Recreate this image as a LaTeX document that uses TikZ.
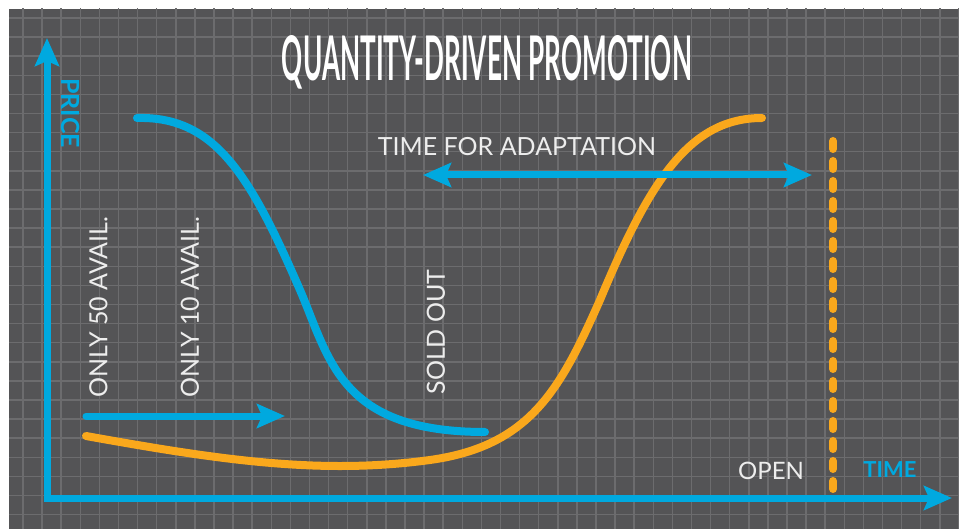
\documentclass[tikz,border=0pt]{standalone}
\usepackage{fontspec}
\setmainfont{Lato}
\usetikzlibrary{arrows.meta}
\definecolor{board}{HTML}{545456}
\definecolor{gridline}{HTML}{6C6C6E}
\definecolor{promoblue}{HTML}{00A9DF}
\definecolor{promoorange}{HTML}{FAA81C}
\definecolor{chalk}{HTML}{EDEDED}
\tikzset{
  bluearrow/.style={promoblue, line width=7pt, line join=miter},
  curve/.style={line width=8pt, line cap=round},
  note/.style={text=chalk, inner sep=0pt, font=\fontsize{25}{25}\selectfont},
  axisname/.style={text=promoblue, inner sep=0pt, font=\bfseries\fontsize{24}{24}\selectfont}
}
\begin{document}
\begin{tikzpicture}[x=1pt, y=-1pt, >={Stealth[length=28pt, width=24pt, inset=5pt]}]
\useasboundingbox (0,0) rectangle (959,529);
\fill[white] (0,0) rectangle (959,529);
\fill[board] (9,9) rectangle (959,529);
\begin{scope}
\clip (9,9) rectangle (959,529);
\foreach \k in {0,...,49} \draw[gridline, line width=1.5pt] ({23+19.1*\k},0)--({23+19.1*\k},529);
\foreach \k in {0,...,27} \draw[gridline, line width=1.5pt] (0,{18+19.1*\k})--(959,{18+19.1*\k});
\end{scope}
\node[text=white, inner sep=0pt, font=\bfseries] (title) at (487,62.5)
  {\resizebox{410pt}{45pt}{QUANTITY-DRIVEN PROMOTION}};
\coordinate (origin) at (47,498);
\coordinate (pricetop) at (47,38);
\coordinate (timeend) at (952,498);
\draw[bluearrow, <->] (pricetop)--(origin)--(timeend);
\node[axisname, rotate=-90, font=\bfseries\fontsize{25}{25}\selectfont] (price) at (71,113) {PRICE};
\node[axisname, font=\bfseries\fontsize{22}{22}\selectfont] (time) at (890,470) {TIME};
\node[note, font=\fontsize{24}{24}\selectfont] (open) at (771,471) {OPEN};
\draw[promoorange, curve, dash pattern=on 8pt off 12pt] (833,141)--(833,496);
\draw[promoblue, curve] (137,118) .. controls (215,116) and (250,175) .. (300,290)
  .. controls (330,360) and (340,432) .. (485,432);
\draw[promoorange, curve] (86,436) .. controls (220,460) and (320,475) .. (430,460)
  .. controls (530,446) and (560,390) .. (600,300)
  .. controls (650,180) and (690,118) .. (762,118);
\coordinate (stockstart) at (86,416);
\coordinate (stockend) at (285,416);
\draw[bluearrow, line cap=round, ->] (stockstart)--(stockend);
\coordinate (adaptleft) at (423,175);
\coordinate (adaptright) at (812,175);
\draw[bluearrow, <->] (adaptleft)--(adaptright);
\node[note] (adapt) at (517,147) {TIME FOR ADAPTATION};
\node[note, rotate=90] (fifty) at (98.5,307) {ONLY 50 AVAIL.};
\node[note, rotate=90] (ten) at (190,307) {ONLY 10 AVAIL.};
\node[note, rotate=90] (soldout) at (436,332) {SOLD OUT};
\end{tikzpicture}
\end{document}
